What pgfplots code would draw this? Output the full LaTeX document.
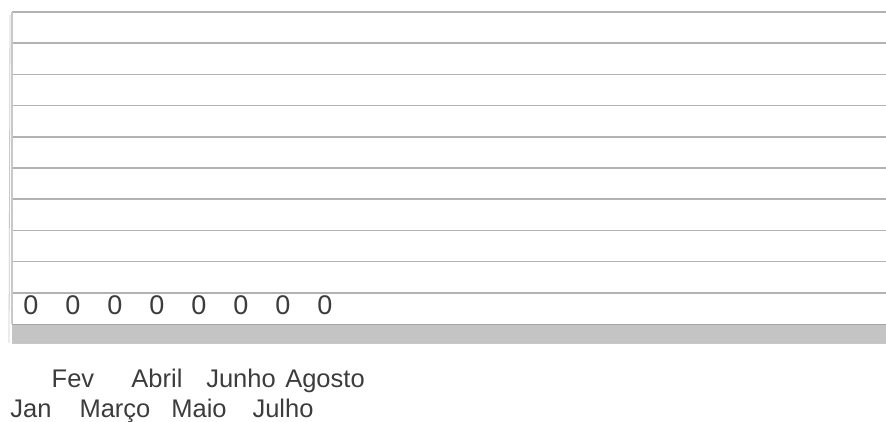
\documentclass[border=0pt]{standalone}
\usepackage{pgfplots}
\pgfplotsset{compat=1.18}
\usepackage{fontspec}
\setmainfont{Liberation Sans}
\definecolor{gridc}{RGB}{178,178,178}
\definecolor{floorc}{RGB}{196,196,196}
\definecolor{edgec}{RGB}{165,165,165}
\definecolor{wallc}{RGB}{200,200,200}
\definecolor{txt}{RGB}{60,60,60}
\begin{document}
\begin{tikzpicture}[x=1pt,y=1pt]
\useasboundingbox (0,0) rectangle (886,421);
\begin{axis}[
  at={(12pt,78pt)}, anchor=south west,
  scale only axis, width=874pt, height=331pt,
  xmin=-0.452, xmax=20.357, ymin=-1.609, ymax=9,
  ytick={0,1,...,9}, yticklabels={}, ymajorgrids,
  major grid style={draw=gridc, line width=1.6pt},
  axis line style={draw=none}, major tick length=0pt,
  xtick={0,2,4,6}, xticklabels={Jan,Março,Maio,Julho},
  extra x ticks={1,3,5,7}, extra x tick labels={Fev,Abril,Junho,Agosto},
  xticklabel style={anchor=base, yshift=-74pt, font=\fontsize{25.5}{25.5}\selectfont, text=txt},
  extra x tick style={xticklabel style={yshift=30pt}, grid=none},
  clip=false,
]
\fill[floorc] (axis cs:-0.452,-1.609) rectangle (axis cs:20.357,-1.0);
\draw[edgec, line width=1pt] (axis cs:-0.452,-1.0) -- (axis cs:20.357,-1.0);
\draw[wallc, line width=0.8pt] (axis cs:-0.452,-1.609) -- (axis cs:20.357,-1.609);
\draw[wallc, line width=1.2pt] (axis cs:-0.452,9) -- (axis cs:-0.452,-1.0);
\draw[wallc, line width=0.8pt] ([xshift=-2pt]axis cs:-0.452,8.9) -- ([xshift=-3pt]axis cs:-0.452,-1.609);
\addplot[draw=none, mark=none, nodes near coords, point meta=explicit symbolic,
  every node near coord/.append style={anchor=center, yshift=-12pt, font=\fontsize{27}{27}\selectfont, text=txt}]
  coordinates {(0,0)[0] (1,0)[0] (2,0)[0] (3,0)[0] (4,0)[0] (5,0)[0] (6,0)[0] (7,0)[0]};
\end{axis}
\end{tikzpicture}
\end{document}
